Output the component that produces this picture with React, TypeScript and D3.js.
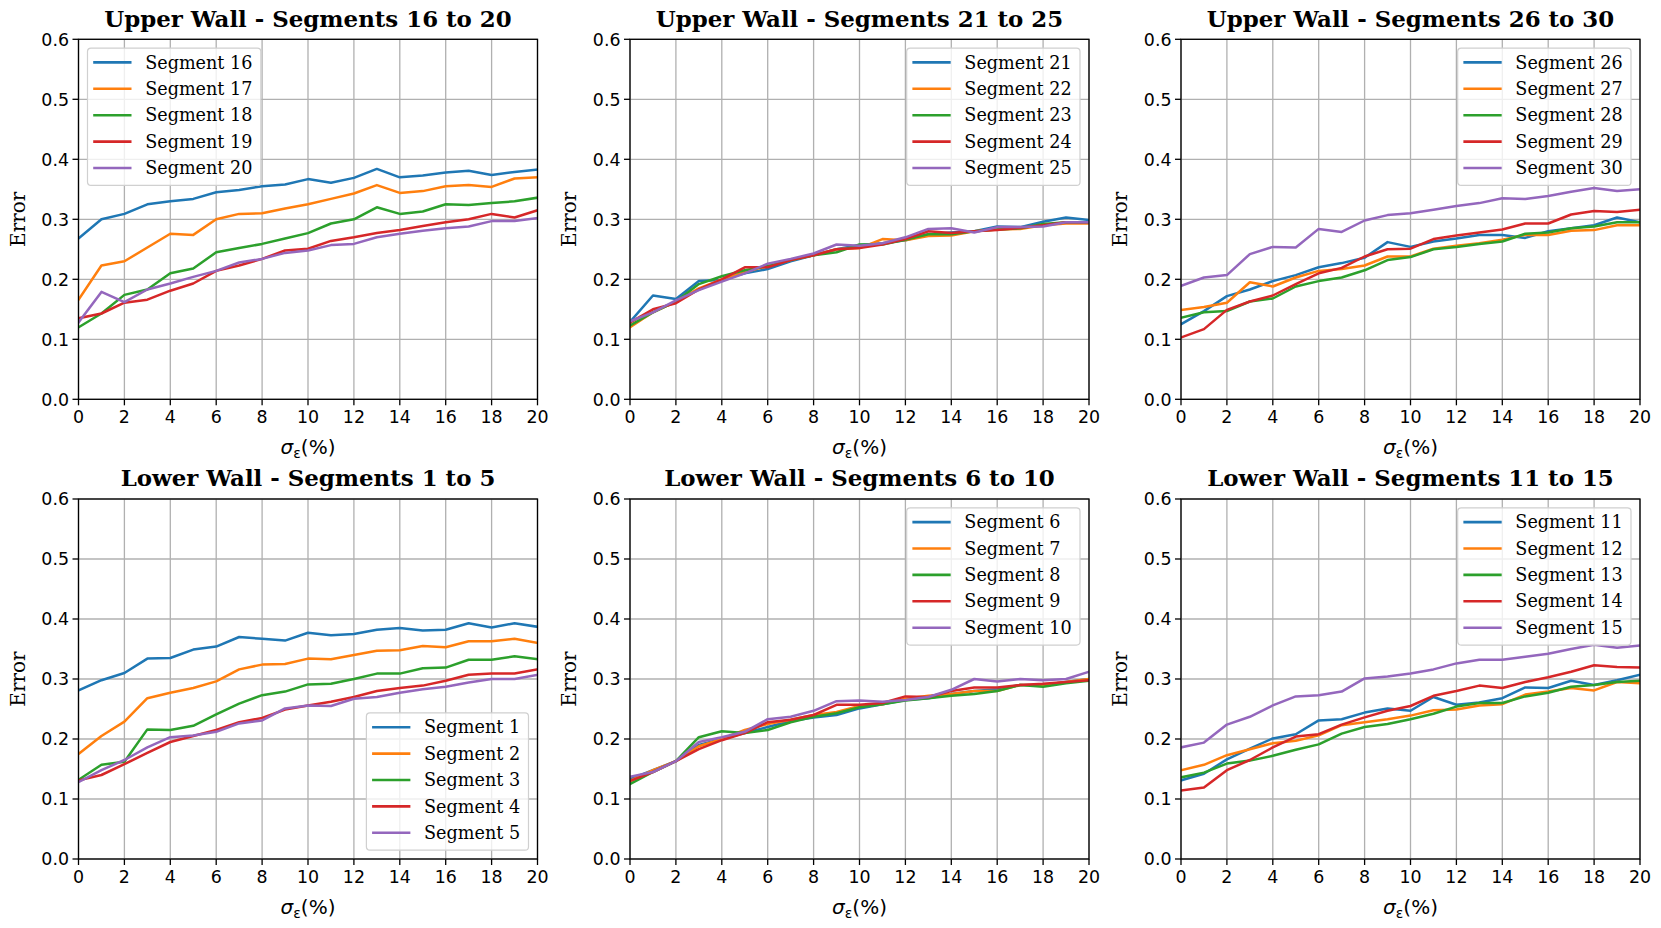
import { useEffect, useRef } from 'react';
import * as d3 from 'd3';

// x values (noise level in %)
const sigmaPct = [0, 1, 2, 3, 4, 5, 6, 7, 8, 9, 10, 11, 12, 13, 14, 15, 16, 17, 18, 19, 20];
const xTicks = [0, 2, 4, 6, 8, 10, 12, 14, 16, 18, 20];
const yTicks = [0, 0.1, 0.2, 0.3, 0.4, 0.5, 0.6];
const lineColors = ['#1f77b4', '#ff7f0e', '#2ca02c', '#d62728', '#9467bd'];

// Upper wall, segments 16-20
const upper16to20 = [
  [0.268, 0.300, 0.309, 0.325, 0.330, 0.334, 0.345, 0.349, 0.355, 0.358, 0.367, 0.361, 0.369, 0.384, 0.370, 0.373, 0.378, 0.381, 0.374, 0.379, 0.383],
  [0.166, 0.223, 0.230, 0.253, 0.276, 0.274, 0.300, 0.309, 0.310, 0.318, 0.325, 0.334, 0.343, 0.357, 0.344, 0.347, 0.355, 0.357, 0.354, 0.368, 0.370],
  [0.120, 0.143, 0.174, 0.183, 0.210, 0.218, 0.245, 0.252, 0.259, 0.268, 0.277, 0.293, 0.300, 0.320, 0.309, 0.313, 0.325, 0.324, 0.327, 0.330, 0.336],
  [0.135, 0.143, 0.161, 0.166, 0.181, 0.193, 0.214, 0.223, 0.234, 0.248, 0.251, 0.264, 0.270, 0.277, 0.282, 0.289, 0.295, 0.300, 0.309, 0.303, 0.315],
  [0.128, 0.179, 0.162, 0.183, 0.193, 0.204, 0.214, 0.228, 0.234, 0.244, 0.248, 0.257, 0.259, 0.270, 0.276, 0.281, 0.285, 0.288, 0.297, 0.297, 0.302],
];

// Upper wall, segments 21-25
const upper21to25 = [
  [0.129, 0.173, 0.167, 0.197, 0.199, 0.210, 0.217, 0.230, 0.240, 0.250, 0.257, 0.260, 0.265, 0.275, 0.278, 0.280, 0.288, 0.287, 0.296, 0.303, 0.299],
  [0.120, 0.145, 0.163, 0.185, 0.200, 0.212, 0.222, 0.232, 0.240, 0.250, 0.252, 0.267, 0.265, 0.272, 0.273, 0.280, 0.283, 0.284, 0.290, 0.293, 0.293],
  [0.123, 0.145, 0.163, 0.192, 0.205, 0.215, 0.222, 0.232, 0.240, 0.245, 0.258, 0.258, 0.266, 0.275, 0.275, 0.280, 0.283, 0.285, 0.292, 0.295, 0.295],
  [0.128, 0.150, 0.160, 0.183, 0.200, 0.220, 0.220, 0.232, 0.240, 0.250, 0.252, 0.258, 0.267, 0.280, 0.277, 0.280, 0.282, 0.286, 0.290, 0.295, 0.295],
  [0.130, 0.145, 0.165, 0.182, 0.196, 0.210, 0.226, 0.234, 0.243, 0.258, 0.256, 0.260, 0.270, 0.284, 0.285, 0.278, 0.287, 0.287, 0.288, 0.295, 0.295],
];

// Upper wall, segments 26-30
const upper26to30 = [
  [0.125, 0.147, 0.172, 0.183, 0.197, 0.207, 0.220, 0.227, 0.236, 0.262, 0.254, 0.263, 0.268, 0.274, 0.274, 0.269, 0.280, 0.285, 0.290, 0.303, 0.295],
  [0.149, 0.154, 0.161, 0.195, 0.188, 0.203, 0.214, 0.217, 0.223, 0.238, 0.238, 0.251, 0.256, 0.260, 0.266, 0.274, 0.274, 0.281, 0.282, 0.290, 0.290],
  [0.136, 0.145, 0.147, 0.163, 0.168, 0.188, 0.197, 0.203, 0.215, 0.232, 0.237, 0.250, 0.254, 0.259, 0.263, 0.276, 0.278, 0.285, 0.288, 0.295, 0.295],
  [0.103, 0.117, 0.149, 0.163, 0.173, 0.192, 0.210, 0.219, 0.238, 0.250, 0.251, 0.267, 0.273, 0.278, 0.283, 0.293, 0.293, 0.308, 0.314, 0.312, 0.316],
  [0.189, 0.203, 0.207, 0.242, 0.254, 0.253, 0.284, 0.279, 0.298, 0.307, 0.310, 0.316, 0.322, 0.327, 0.335, 0.334, 0.339, 0.346, 0.352, 0.347, 0.350],
];

// Lower wall, segments 1-5
const lower1to5 = [
  [0.281, 0.298, 0.310, 0.334, 0.335, 0.349, 0.354, 0.370, 0.367, 0.364, 0.377, 0.373, 0.375, 0.382, 0.385, 0.381, 0.382, 0.393, 0.386, 0.393, 0.387],
  [0.175, 0.205, 0.229, 0.268, 0.277, 0.285, 0.296, 0.316, 0.324, 0.325, 0.334, 0.333, 0.340, 0.347, 0.348, 0.355, 0.353, 0.363, 0.363, 0.367, 0.360],
  [0.132, 0.157, 0.162, 0.216, 0.215, 0.222, 0.241, 0.259, 0.273, 0.279, 0.291, 0.292, 0.300, 0.309, 0.309, 0.318, 0.319, 0.332, 0.332, 0.338, 0.333],
  [0.131, 0.140, 0.158, 0.177, 0.195, 0.205, 0.215, 0.228, 0.235, 0.249, 0.256, 0.262, 0.270, 0.280, 0.285, 0.289, 0.297, 0.307, 0.309, 0.309, 0.316],
  [0.128, 0.148, 0.165, 0.186, 0.203, 0.206, 0.212, 0.226, 0.231, 0.251, 0.256, 0.255, 0.267, 0.270, 0.277, 0.283, 0.287, 0.294, 0.300, 0.300, 0.307],
];

// Lower wall, segments 6-10
const lower6to10 = [
  [0.133, 0.148, 0.163, 0.190, 0.200, 0.210, 0.220, 0.230, 0.236, 0.240, 0.251, 0.258, 0.265, 0.268, 0.275, 0.280, 0.283, 0.290, 0.290, 0.295, 0.300],
  [0.130, 0.148, 0.163, 0.188, 0.200, 0.215, 0.225, 0.232, 0.240, 0.245, 0.255, 0.258, 0.267, 0.272, 0.275, 0.280, 0.280, 0.290, 0.290, 0.295, 0.300],
  [0.125, 0.145, 0.163, 0.203, 0.213, 0.210, 0.215, 0.228, 0.237, 0.243, 0.253, 0.258, 0.264, 0.268, 0.272, 0.275, 0.280, 0.290, 0.287, 0.293, 0.297],
  [0.130, 0.145, 0.163, 0.183, 0.198, 0.210, 0.228, 0.232, 0.240, 0.257, 0.257, 0.260, 0.271, 0.270, 0.280, 0.286, 0.286, 0.290, 0.292, 0.295, 0.298],
  [0.137, 0.145, 0.163, 0.195, 0.203, 0.212, 0.233, 0.237, 0.247, 0.263, 0.264, 0.262, 0.265, 0.270, 0.282, 0.300, 0.296, 0.300, 0.298, 0.300, 0.312],
];

// Lower wall, segments 11-15
const lower11to15 = [
  [0.131, 0.142, 0.166, 0.184, 0.201, 0.208, 0.231, 0.233, 0.244, 0.251, 0.247, 0.270, 0.257, 0.261, 0.268, 0.286, 0.285, 0.297, 0.290, 0.298, 0.307],
  [0.148, 0.157, 0.173, 0.183, 0.193, 0.197, 0.206, 0.223, 0.228, 0.233, 0.239, 0.248, 0.249, 0.256, 0.258, 0.274, 0.279, 0.285, 0.281, 0.295, 0.293],
  [0.136, 0.144, 0.159, 0.164, 0.172, 0.182, 0.191, 0.209, 0.220, 0.225, 0.233, 0.242, 0.254, 0.260, 0.260, 0.271, 0.277, 0.287, 0.290, 0.295, 0.297],
  [0.114, 0.119, 0.148, 0.165, 0.186, 0.204, 0.208, 0.224, 0.236, 0.247, 0.255, 0.272, 0.280, 0.289, 0.285, 0.295, 0.303, 0.312, 0.323, 0.320, 0.319],
  [0.186, 0.194, 0.224, 0.237, 0.256, 0.271, 0.273, 0.279, 0.301, 0.304, 0.309, 0.316, 0.326, 0.332, 0.332, 0.337, 0.342, 0.350, 0.357, 0.352, 0.356],
];

const panels = [
  { title: 'Upper Wall - Segments 16 to 20', first: 16, series: upper16to20, legend: 'ul' },
  { title: 'Upper Wall - Segments 21 to 25', first: 21, series: upper21to25, legend: 'ur' },
  { title: 'Upper Wall - Segments 26 to 30', first: 26, series: upper26to30, legend: 'ur' },
  { title: 'Lower Wall - Segments 1 to 5', first: 1, series: lower1to5, legend: 'lr' },
  { title: 'Lower Wall - Segments 6 to 10', first: 6, series: lower6to10, legend: 'ur' },
  { title: 'Lower Wall - Segments 11 to 15', first: 11, series: lower11to15, legend: 'ur' },
];

const W = 1661;
const H = 928;
const colLeft = [78.5, 630, 1181];
const rowTop = [39.3, 499];
const axW = 459;
const axH = 360;
const sansFont = "'DejaVu Sans', sans-serif";
const serifFont = "'DejaVu Serif', serif";

export default function App() {
  const svgRef = useRef<SVGSVGElement>(null);

  useEffect(() => {
    if (!svgRef.current) return;
    document.body.style.margin = '0';

    const root = d3.select(svgRef.current);
    root.selectAll('*').remove();
    root.append('rect').attr('width', W).attr('height', H).attr('fill', '#fff');

    panels.forEach((p, i) => {
      const left = colLeft[i % 3];
      const top = rowTop[Math.floor(i / 3)];

      const x = d3.scaleLinear().domain([0, 20]).range([0, axW]);
      const y = d3.scaleLinear().domain([0, 0.6]).range([axH, 0]);

      const g = root.append('g').attr('transform', `translate(${left},${top})`);

      // Grid
      g.selectAll('.vgrid')
        .data(xTicks)
        .enter()
        .append('line')
        .attr('x1', d => x(d)).attr('x2', d => x(d))
        .attr('y1', 0).attr('y2', axH)
        .attr('stroke', '#b0b0b0').attr('stroke-width', 1.3);
      g.selectAll('.hgrid')
        .data(yTicks)
        .enter()
        .append('line')
        .attr('x1', 0).attr('x2', axW)
        .attr('y1', d => y(d)).attr('y2', d => y(d))
        .attr('stroke', '#b0b0b0').attr('stroke-width', 1.3);

      // Lines
      const clipId = `clip-${i}`;
      g.append('clipPath').attr('id', clipId)
        .append('rect').attr('width', axW).attr('height', axH);

      const line = d3.line<number>()
        .x((_, k) => x(sigmaPct[k]))
        .y(d => y(d));

      g.append('g').attr('clip-path', `url(#${clipId})`)
        .selectAll('path')
        .data(p.series)
        .enter()
        .append('path')
        .attr('d', d => line(d))
        .attr('fill', 'none')
        .attr('stroke', (_, k) => lineColors[k])
        .attr('stroke-width', 2.5)
        .attr('stroke-linejoin', 'round')
        .attr('stroke-linecap', 'square');

      // Spines
      g.append('rect')
        .attr('width', axW).attr('height', axH)
        .attr('fill', 'none').attr('stroke', '#000').attr('stroke-width', 1.3);

      // X ticks
      const xt = g.selectAll('.xt').data(xTicks).enter().append('g')
        .attr('transform', d => `translate(${x(d)},${axH})`);
      xt.append('line').attr('y1', 0).attr('y2', 6).attr('stroke', '#000').attr('stroke-width', 1.3);
      xt.append('text')
        .attr('y', 24).attr('text-anchor', 'middle')
        .style('font-family', sansFont).style('font-size', '17.4px')
        .text(d => String(d));

      // Y ticks
      const yt = g.selectAll('.yt').data(yTicks).enter().append('g')
        .attr('transform', d => `translate(0,${y(d)})`);
      yt.append('line').attr('x1', 0).attr('x2', -6).attr('stroke', '#000').attr('stroke-width', 1.3);
      yt.append('text')
        .attr('x', -9.5).attr('dy', '0.36em').attr('text-anchor', 'end')
        .style('font-family', sansFont).style('font-size', '17.4px')
        .text(d => d.toFixed(1));

      // Title
      g.append('text')
        .attr('x', axW / 2).attr('y', -12.6).attr('text-anchor', 'middle')
        .style('font-family', serifFont).style('font-size', '22.9px').style('font-weight', 'bold')
        .text(p.title);

      // Axis labels
      g.append('text')
        .attr('transform', `translate(-61.2,${axH / 2}) rotate(-90)`)
        .attr('dy', '0.36em').attr('text-anchor', 'middle')
        .style('font-family', serifFont).style('font-size', '20px')
        .text('Error');

      const xl = g.append('text')
        .attr('x', axW / 2).attr('y', axH + 54.5).attr('text-anchor', 'middle')
        .style('font-family', sansFont).style('font-size', '20px');
      xl.append('tspan').style('font-style', 'italic').text('σ');
      xl.append('tspan').attr('dy', 4.5).style('font-size', '14px').text('ε');
      xl.append('tspan').attr('dy', -4.5).text('(%)');

      // Legend
      const labels = p.series.map((_, k) => `Segment ${p.first + k}`);
      const rowStep = 26.4;
      const lg = g.append('g');
      const box = lg.append('rect')
        .attr('rx', 3.5).attr('ry', 3.5)
        .attr('fill', '#fff').attr('fill-opacity', 0.8)
        .attr('stroke', '#d0d0d0').attr('stroke-width', 1.2);
      let textW = 0;
      labels.forEach((lab, k) => {
        const cy = 14.3 + k * rowStep;
        lg.append('line')
          .attr('x1', 5.7).attr('x2', 44).attr('y1', cy).attr('y2', cy)
          .attr('stroke', lineColors[k]).attr('stroke-width', 2.6);
        const t = lg.append('text')
          .attr('x', 57.7).attr('y', cy).attr('dy', '0.35em')
          .style('font-family', serifFont).style('font-size', '17.6px')
          .text(lab);
        const node = t.node() as SVGTextElement;
        textW = Math.max(textW, node.getComputedTextLength());
      });
      const boxW = 57.7 + textW + 8.4;
      const boxH = 14.3 + (labels.length - 1) * rowStep + 17.4;
      box.attr('width', boxW).attr('height', boxH);
      const padX = 9;
      const padY = 8.8;
      let lx = padX;
      let ly = padY;
      if (p.legend === 'ur') lx = axW - padX - boxW;
      if (p.legend === 'lr') { lx = axW - padX - boxW; ly = axH - padY - boxH; }
      lg.attr('transform', `translate(${lx},${ly})`);
    });
  }, []);

  return <svg ref={svgRef} width={W} height={H} style={{ display: 'block' }} />;
}
